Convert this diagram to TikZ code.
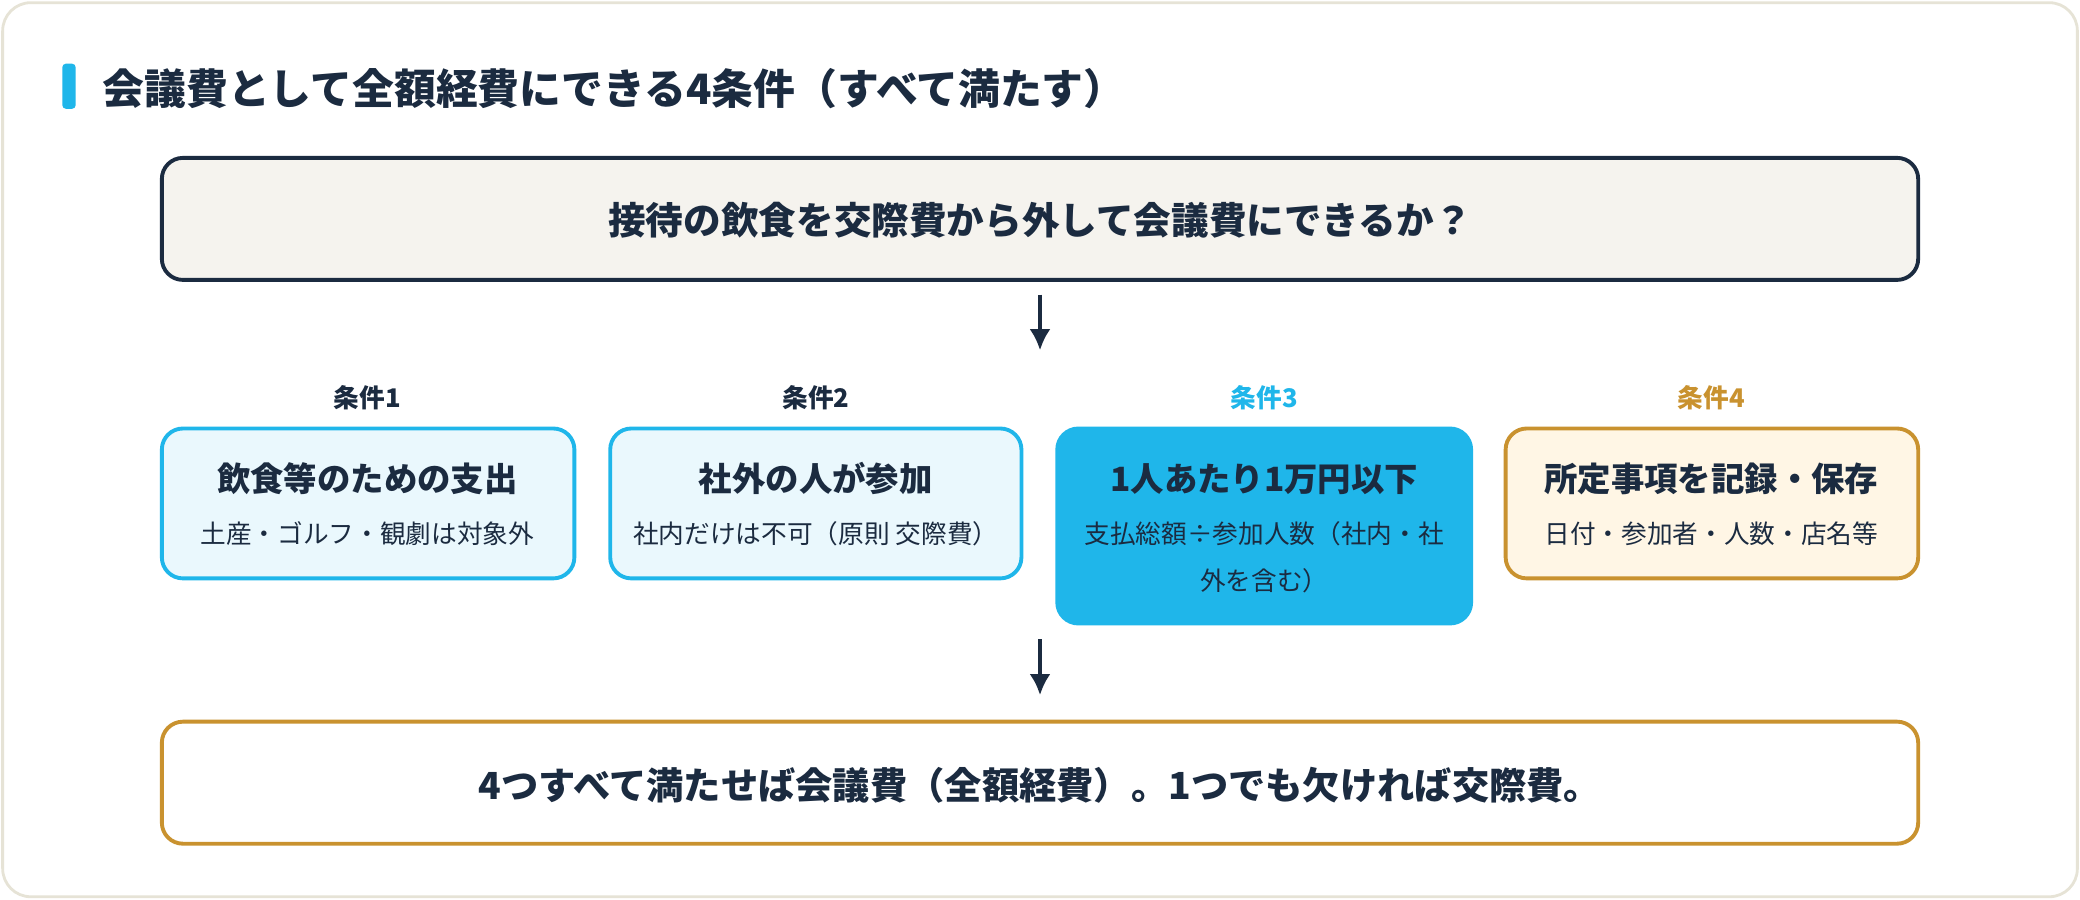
\documentclass[tikz,border=0pt]{standalone}
\usepackage{fontspec}
\usetikzlibrary{arrows.meta}
\setmainfont{Noto Sans CJK JP}
\definecolor{navy}{HTML}{1B2B40}
\definecolor{skyblue}{HTML}{1FB6EA}
\definecolor{paleblue}{HTML}{EAF8FD}
\definecolor{gold}{HTML}{C9922F}
\definecolor{cream}{HTML}{FFF6E5}
\definecolor{paper}{HTML}{F5F3EE}
\definecolor{frame}{HTML}{E6E3D6}
\begin{document}
\begin{tikzpicture}[x=0.013265cm, y=-0.013265cm,
    box/.style={draw, line width=1.1pt, rounded corners=6pt},
    cond/.style={font=\fontsize{7.3}{9}\selectfont\bfseries},
    head/.style={font=\fontsize{9.5}{11}\selectfont\bfseries, text=navy},
    sub/.style={font=\fontsize{7.3}{9}\selectfont, text=navy},
    arr/.style={-{Latex[length=6pt,width=6pt]}, line width=1.1pt, draw=navy}]
  \useasboundingbox (0,0) rectangle (1568,678);
  \draw[frame, fill=white, rounded corners=8pt, line width=0.8pt] (2,2) rectangle (1566,676);

  % title
  \fill[skyblue, rounded corners=1pt] (47,48) rectangle (57,82);
  \node[anchor=west, text=navy, font=\fontsize{11.9}{14}\selectfont\bfseries] (title) at (68,67)
    {会議費として全額経費にできる4条件（すべて満たす）};

  % question
  \draw[box, draw=navy, fill=paper] (122,119) rectangle (1446,211);
  \node[text=navy, font=\fontsize{10.7}{13}\selectfont\bfseries] (q) at (784,166)
    {接待の飲食を交際費から外して会議費にできるか？};
  \coordinate (a1) at (784,222);
  \coordinate (a2) at (784,264);
  \draw[arr] (a1) -- (a2);

  % conditions
  \node[cond, text=navy] (c1) at (277,300) {条件1};
  \node[cond, text=navy] (c2) at (615,300) {条件2};
  \node[cond, text=skyblue] (c3) at (953,300) {条件3};
  \node[cond, text=gold] (c4) at (1290,300) {条件4};

  \draw[box, draw=skyblue, fill=paleblue] (122,323) rectangle (433,436);
  \draw[box, draw=skyblue, fill=paleblue] (460,323) rectangle (770,436);
  \draw[box, draw=skyblue, fill=skyblue] (797,323) rectangle (1109,470);
  \draw[box, draw=gold, fill=cream] (1135,323) rectangle (1446,436);

  \node[head] (h1) at (277,361) {飲食等のための支出};
  \node[sub] (s1) at (277,402) {土産・ゴルフ・観劇は対象外};
  \node[head] (h2) at (615,361) {社外の人が参加};
  \node[sub] (s2) at (615,402) {社内だけは不可（原則 交際費）};
  \node[head] (h3) at (953,361) {1人あたり1万円以下};
  \node[sub, align=center, font=\fontsize{7.3}{13.5}\selectfont] (s3) at (953,420)
    {支払総額÷参加人数（社内・社\\外を含む）};
  \node[head] (h4) at (1290,361) {所定事項を記録・保存};
  \node[sub] (s4) at (1290,402) {日付・参加者・人数・店名等};

  \coordinate (b1) at (784,482);
  \coordinate (b2) at (784,524);
  \draw[arr] (b1) -- (b2);

  % result
  \draw[box, draw=gold, fill=white] (122,544) rectangle (1446,636);
  \node[text=navy, font=\fontsize{10.6}{13}\selectfont\bfseries] (r) at (784,592)
    {4つすべて満たせば会議費（全額経費）。1つでも欠ければ交際費。};
\end{tikzpicture}
\end{document}
